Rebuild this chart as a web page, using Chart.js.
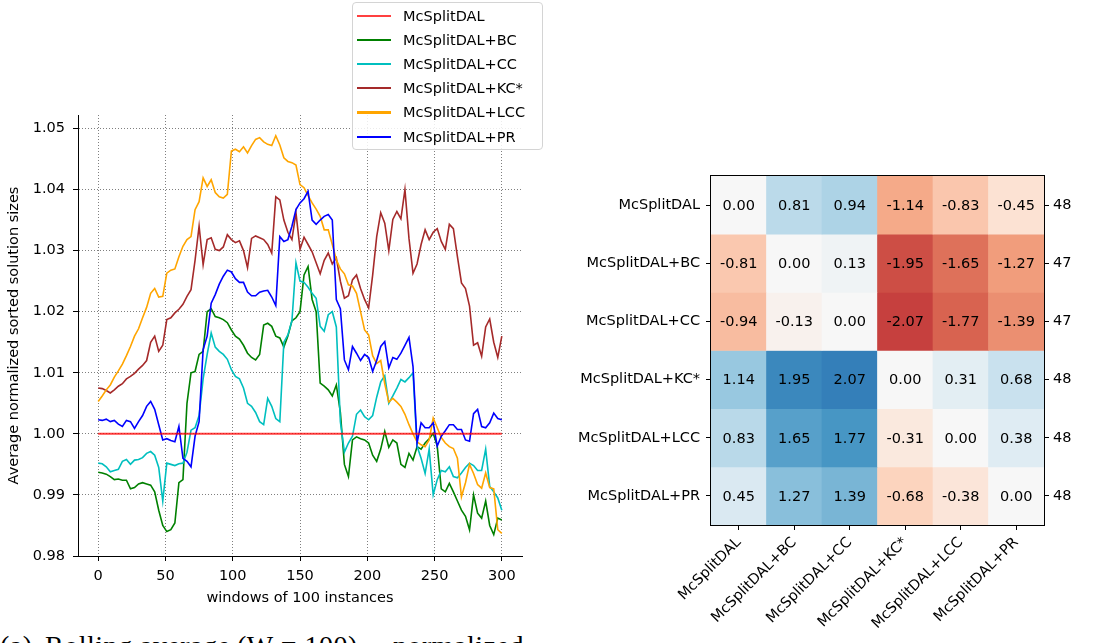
<!DOCTYPE html>
<html lang="en">
<head>
<meta charset="UTF-8">
<title>Rolling average and pairwise differences</title>
<script src="https://cdn.jsdelivr.net/npm/chart.js"></script>
<style>
    html, body { margin: 0; padding: 0; background: #fff; }
    body {
        width: 1108px;
        height: 643px;
        position: relative;
        overflow: hidden;
        font-family: "DejaVu Sans", sans-serif;
    }
    #lineChart { position: absolute; left: 0; top: 0; }
    #heatChart { position: absolute; left: 560px; top: 0; }

    /* legend sits above the line plot, partly over the top of it */
    .legend {
        position: absolute;
        left: 352px;
        top: 2px;
        width: 191px;
        height: 148px;
        box-sizing: border-box;
        border: 1px solid #d4d4d4;
        border-radius: 4px;
        background: rgba(255, 255, 255, 0.85);
    }
    .legend .item {
        position: absolute;
        left: 0;
        height: 20px;
        line-height: 20px;
        font-size: 14.5px;
        color: #000;
        white-space: nowrap;
    }
    .legend .swatch {
        position: absolute;
        left: 4px;
        top: 9px;
        width: 34px;
        height: 2.2px;
    }
    .legend .text { position: absolute; left: 50px; top: 0; }

    /* sub-figure caption, only its upper part fits on the page */
    .caption {
        position: absolute;
        top: 632px;
        font-family: "Liberation Serif", "DejaVu Serif", serif;
        font-size: 28px;
        line-height: 28px;
        letter-spacing: 0.5px;
        color: #000;
        white-space: nowrap;
    }
</style>
</head>
<body>
    <canvas id="lineChart" width="560" height="615"></canvas>
    <canvas id="heatChart" width="548" height="643"></canvas>
    <div class="legend" id="legend"></div>

    <div class="caption" style="left: 0px;">(a)</div>
    <div class="caption" style="left: 45px;">Rolling average</div>
    <div class="caption" style="left: 237px;">(W = 100)</div>
    <div class="caption" style="left: 393px;">normalized</div>

<script>
    // ---- line plot data ----
    const methods = ['McSplitDAL', 'McSplitDAL+BC', 'McSplitDAL+CC', 'McSplitDAL+KC*', 'McSplitDAL+LCC', 'McSplitDAL+PR'];

    // window index, every third window from 0 to 300
    const windows = Array.from({ length: 101 }, (_, i) => i * 3);

    const xTickValues = [0, 50, 100, 150, 200, 250, 300];
    const yTickValues = [0.98, 0.99, 1.00, 1.01, 1.02, 1.03, 1.04, 1.05];

    const dalValues = [
        1, 1, 1, 1, 1, 1, 1, 1, 1, 1, 1, 1, 1, 1, 1, 1, 1, 1, 1, 1,
        1, 1, 1, 1, 1, 1, 1, 1, 1, 1, 1, 1, 1, 1, 1, 1, 1, 1, 1, 1,
        1, 1, 1, 1, 1, 1, 1, 1, 1, 1, 1, 1, 1, 1, 1, 1, 1, 1, 1, 1,
        1, 1, 1, 1, 1, 1, 1, 1, 1, 1, 1, 1, 1, 1, 1, 1, 1, 1, 1, 1,
        1, 1, 1, 1, 1, 1, 1, 1, 1, 1, 1, 1, 1, 1, 1, 1, 1, 1, 1, 1,
        1
    ];

    const bcValues = [
        0.9937, 0.9936, 0.9934, 0.9930, 0.9925, 0.9926, 0.9924, 0.9924, 0.9910, 0.9912,
        0.9918, 0.9920, 0.9918, 0.9916, 0.9905, 0.9875, 0.9850, 0.9840, 0.9843, 0.9854,
        0.9920, 0.9925, 1.0050, 1.0100, 1.0102, 1.0130, 1.0135, 1.0200, 1.0205, 1.0192,
        1.0190, 1.0187, 1.0182, 1.0170, 1.0160, 1.0155, 1.0145, 1.0132, 1.0125, 1.0121,
        1.0130, 1.0178, 1.0181, 1.0176, 1.0160, 1.0157, 1.0142, 1.0160, 1.0185, 1.0190,
        1.0200, 1.0260, 1.0274, 1.0220, 1.0200, 1.0083, 1.0078, 1.0072, 1.0062, 1.0080,
        1.0035, 0.9950, 0.9930, 0.9990, 0.9995, 0.9992, 0.9990, 0.9985, 0.9965, 0.9955,
        0.9975, 1.0004, 0.9978, 0.9990, 0.9985, 0.9950, 0.9945, 0.9968, 0.9957, 0.9979,
        0.9975, 0.9985, 0.9992, 1.0001, 0.9980, 0.9910, 0.9905, 0.9919, 0.9905, 0.9890,
        0.9875, 0.9865, 0.9843, 0.9900, 0.9870, 0.9862, 0.9890, 0.9850, 0.9835, 0.9862,
        0.9859
    ];

    const ccValues = [
        0.9952, 0.9951, 0.9946, 0.9938, 0.9940, 0.9942, 0.9955, 0.9958, 0.9950, 0.9957,
        0.9958, 0.9961, 0.9968, 0.9971, 0.9965, 0.9945, 0.9890, 0.9952, 0.9950, 0.9948,
        0.9951, 0.9952, 0.9970, 1.0006, 1.0010, 1.0030, 1.0090, 1.0130, 1.0165, 1.0142,
        1.0135, 1.0130, 1.0122, 1.0105, 1.0094, 1.0090, 1.0075, 1.0050, 1.0045, 1.0035,
        1.0020, 1.0015, 1.0058, 1.0045, 1.0025, 1.0020, 1.0150, 1.0162, 1.0185, 1.0280,
        1.0250, 1.0248, 1.0240, 1.0230, 1.0222, 1.0176, 1.0168, 1.0195, 1.0200, 1.0175,
        1.0020, 0.9970, 0.9985, 0.9996, 1.0032, 1.0039, 1.0028, 1.0023, 1.0030, 1.0060,
        1.0085, 1.0095, 1.0050, 1.0062, 1.0075, 1.0089, 1.0085, 1.0092, 1.0100, 0.9980,
        0.9960, 0.9935, 0.9975, 0.9900, 0.9925, 0.9940, 0.9938, 0.9946, 0.9930, 0.9928,
        0.9936, 0.9945, 0.9952, 0.9948, 0.9940, 0.9940, 0.9975, 0.9914, 0.9905, 0.9895,
        0.9875
    ];

    const kcValues = [
        1.0075, 1.0074, 1.0071, 1.0067, 1.0072, 1.0078, 1.0082, 1.0090, 1.0094, 1.0099,
        1.0106, 1.0112, 1.0120, 1.0150, 1.0160, 1.0135, 1.0145, 1.0187, 1.0190, 1.0198,
        1.0204, 1.0212, 1.0225, 1.0236, 1.0284, 1.0340, 1.0277, 1.0318, 1.0321, 1.0302,
        1.0300, 1.0306, 1.0326, 1.0318, 1.0313, 1.0316, 1.0300, 1.0272, 1.0320, 1.0324,
        1.0321, 1.0318, 1.0310, 1.0296, 1.0388, 1.0383, 1.0350, 1.0330, 1.0318, 1.0362,
        1.0302, 1.0322, 1.0310, 1.0298, 1.0280, 1.0262, 1.0284, 1.0296, 1.0278, 1.0288,
        1.0250, 1.0222, 1.0226, 1.0252, 1.0260, 1.0238, 1.0220, 1.0206, 1.0260, 1.0323,
        1.0362, 1.0345, 1.0300, 1.0351, 1.0364, 1.0352, 1.0400, 1.0320, 1.0263, 1.0278,
        1.0310, 1.0334, 1.0318, 1.0330, 1.0336, 1.0315, 1.0302, 1.0343, 1.0336, 1.0290,
        1.0247, 1.0238, 1.0209, 1.0145, 1.0149, 1.0127, 1.0175, 1.0188, 1.0150, 1.0125,
        1.0160
    ];

    const lccValues = [
        1.0053, 1.0062, 1.0072, 1.0080, 1.0093, 1.0103, 1.0114, 1.0128, 1.0143, 1.0160,
        1.0172, 1.0190, 1.0207, 1.0230, 1.0238, 1.0224, 1.0225, 1.0263, 1.0268, 1.0270,
        1.0290, 1.0307, 1.0318, 1.0323, 1.0367, 1.0380, 1.0419, 1.0405, 1.0416, 1.0395,
        1.0388, 1.0386, 1.0392, 1.0463, 1.0466, 1.0462, 1.0470, 1.0460, 1.0472, 1.0482,
        1.0485, 1.0478, 1.0474, 1.0472, 1.0488, 1.0473, 1.0452, 1.0446, 1.0444, 1.0440,
        1.0408, 1.0403, 1.0390, 1.0378, 1.0368, 1.0356, 1.0334, 1.0334, 1.0310, 1.0285,
        1.0270, 1.0262, 1.0244, 1.0242, 1.0230, 1.0200, 1.0170, 1.0162, 1.0128, 1.0115,
        1.0120, 1.0082, 1.0052, 1.0058, 1.0052, 1.0045, 1.0032, 1.0015, 1.0000, 0.9987,
        0.9982, 0.9979, 0.9990, 1.0026, 1.0010, 0.9994, 0.9985, 0.9979, 0.9976, 0.9960,
        0.9897, 0.9920, 0.9950, 0.9935, 0.9917, 0.9911, 0.9936, 0.9912, 0.9910, 0.9843,
        0.9837
    ];

    const prValues = [
        1.0023, 1.0022, 1.0024, 1.0020, 1.0022, 1.0016, 1.0012, 1.0022, 1.0020, 1.0009,
        1.0020, 1.0030, 1.0045, 1.0053, 1.0040, 1.0015, 0.9990, 0.9992, 0.9989, 0.9987,
        1.0012, 0.9960, 0.9955, 0.9946, 0.9996, 1.0020, 1.0138, 1.0160, 1.0214, 1.0228,
        1.0245, 1.0258, 1.0268, 1.0265, 1.0254, 1.0248, 1.0248, 1.0232, 1.0226, 1.0226,
        1.0232, 1.0234, 1.0235, 1.0224, 1.0210, 1.0323, 1.0315, 1.0318, 1.0340, 1.0367,
        1.0378, 1.0385, 1.0397, 1.0350, 1.0343, 1.0350, 1.0356, 1.0359, 1.0350, 1.0220,
        1.0205, 1.0121, 1.0105, 1.0143, 1.0132, 1.0120, 1.0130, 1.0125, 1.0102, 1.0120,
        1.0143, 1.0151, 1.0108, 1.0125, 1.0122, 1.0132, 1.0145, 1.0158, 1.0110, 0.9985,
        1.0018, 1.0010, 1.0010, 1.0018, 0.9980, 0.9996, 1.0005, 1.0015, 1.0015, 1.0007,
        1.0007, 0.9990, 0.9988, 1.0033, 1.0040, 1.0012, 1.0010, 1.0018, 1.0034, 1.0025,
        1.0023
    ];

    const seriesValues = [dalValues, bcValues, ccValues, kcValues, lccValues, prValues];
    const seriesColors = ['rgba(255, 0, 0, 0.75)', '#008000', '#00bfbf', '#a52a2a', '#ffa500', '#0000ff'];
    const seriesWidths = [2, 1.6, 1.6, 1.6, 1.6, 1.6];
    // later series are drawn over earlier ones, the baseline stays on top
    const seriesOrder = [-1, 5, 4, 3, 2, 1];

    // ---- heatmap data: row method minus column method ----
    const diffRows = [
        [ 0.00,  0.81,  0.94, -1.14, -0.83, -0.45],
        [-0.81,  0.00,  0.13, -1.95, -1.65, -1.27],
        [-0.94, -0.13,  0.00, -2.07, -1.77, -1.39],
        [ 1.14,  1.95,  2.07,  0.00,  0.31,  0.68],
        [ 0.83,  1.65,  1.77, -0.31,  0.00,  0.38],
        [ 0.45,  1.27,  1.39, -0.68, -0.38,  0.00]
    ];
    const rowCounts = [48, 47, 47, 48, 48, 48];

    Chart.defaults.font.family = '"DejaVu Sans", sans-serif';
    Chart.defaults.font.size = 14.5;
    Chart.defaults.color = '#000';

    // RdBu colour ramp, limits -3 .. 3
    const rdbuStops = [
        [103, 0, 31], [178, 24, 43], [214, 96, 77], [244, 165, 130], [253, 219, 199], [247, 247, 247],
        [209, 229, 240], [146, 197, 222], [67, 147, 195], [33, 102, 172], [5, 48, 97]
    ];
    function rdbu(v) {
        let t = (v + 3) / 6;
        t = Math.max(0, Math.min(1, t)) * (rdbuStops.length - 1);
        const i = Math.min(Math.floor(t), rdbuStops.length - 2);
        const f = t - i;
        const a = rdbuStops[i], b = rdbuStops[i + 1];
        const c = a.map((ch, k) => Math.round(ch + (b[k] - ch) * f));
        return 'rgb(' + c.join(',') + ')';
    }

    // ---- rolling average line plot ----
    const dottedGrid = {
        color: 'rgba(0, 0, 0, 0.5)',
        lineWidth: 1,
        tickColor: '#000',
        tickLength: 5,
        tickWidth: 1
    };

    const lineChart = new Chart(document.getElementById('lineChart'), {
        type: 'line',
        data: {
            datasets: methods.map((name, i) => ({
                label: name,
                data: windows.map((w, j) => ({ x: w, y: seriesValues[i][j] })),
                borderColor: seriesColors[i],
                borderWidth: seriesWidths[i],
                order: seriesOrder[i],
                pointRadius: 0,
                tension: 0
            }))
        },
        options: {
            responsive: false,
            animation: false,
            layout: { padding: { top: 115, right: 38, left: 0, bottom: 0 } },
            plugins: { legend: { display: false }, tooltip: { enabled: false } },
            scales: {
                x: {
                    type: 'linear',
                    min: -15,
                    max: 315,
                    afterBuildTicks: s => { s.ticks = xTickValues.map(v => ({ value: v })); },
                    afterFit: s => { s.height = 59; s.paddingLeft = 0; s.paddingRight = 0; },
                    ticks: { padding: 7, maxRotation: 0, callback: v => v },
                    grid: dottedGrid,
                    border: { color: '#000', width: 1, dash: [1, 2] },
                    title: { display: true, text: 'windows of 100 instances', padding: { top: 0, bottom: 8 } }
                },
                y: {
                    min: 0.98,
                    max: 1.0522,
                    afterBuildTicks: s => { s.ticks = yTickValues.map(v => ({ value: v })); },
                    afterFit: s => { s.width = 78; },
                    ticks: { padding: 8, callback: v => v.toFixed(2) },
                    grid: dottedGrid,
                    border: { color: '#000', width: 1, dash: [1, 2] },
                    title: { display: true, text: 'Average normalized sorted solution sizes', padding: { top: 6, bottom: 0 } }
                }
            }
        }
    });

    // legend built from the chart's own datasets
    const legendBox = document.getElementById('legend');
    lineChart.data.datasets.forEach((ds, i) => {
        const item = document.createElement('div');
        item.className = 'item';
        item.style.top = (3 + i * 24.1) + 'px';
        item.innerHTML = '<span class="swatch"></span><span class="text"></span>';
        item.querySelector('.swatch').style.background = ds.borderColor;
        item.querySelector('.text').textContent = ds.label;
        legendBox.appendChild(item);
    });

    // ---- pairwise difference heatmap ----
    const cellText = {
        id: 'cellText',
        afterDatasetsDraw(chart) {
            const ctx = chart.ctx;
            ctx.save();
            ctx.font = '14.5px "DejaVu Sans", sans-serif';
            ctx.fillStyle = '#000';
            ctx.textAlign = 'center';
            ctx.textBaseline = 'middle';
            chart.data.datasets.forEach((ds, r) => {
                chart.getDatasetMeta(r).data.forEach((bar, c) => {
                    ctx.fillText(diffRows[r][c].toFixed(2), bar.x, (bar.y + bar.base) / 2 + 1);
                });
            });
            ctx.restore();
        }
    };

    const frame = {
        id: 'frame',
        afterDraw(chart) {
            const { left, top, right, bottom } = chart.chartArea;
            const ctx = chart.ctx;
            ctx.save();
            ctx.strokeStyle = '#000';
            ctx.lineWidth = 1;
            ctx.strokeRect(Math.round(left) - 0.5, Math.round(top) - 0.5,
                Math.round(right - left) + 1, Math.round(bottom - top) + 1);
            ctx.restore();
        }
    };

    const rowTicks = s => { s.ticks = methods.map((_, i) => ({ value: i + 0.5 })); };
    const tickOnly = { display: true, drawOnChartArea: false, tickLength: 5, tickColor: '#000', tickWidth: 1, offset: false };

    new Chart(document.getElementById('heatChart'), {
        type: 'bar',
        data: {
            labels: methods,
            datasets: diffRows.map((row, r) => ({
                label: methods[r],
                data: row.map(() => [r, r + 1]),
                backgroundColor: row.map(rdbu),
                borderWidth: 0,
                grouped: false,
                barPercentage: 1,
                categoryPercentage: 1
            }))
        },
        options: {
            responsive: false,
            animation: false,
            layout: { padding: { top: 176, right: 0, left: 0, bottom: 0 } },
            plugins: { legend: { display: false }, tooltip: { enabled: false } },
            scales: {
                x: {
                    type: 'category',
                    afterFit: s => { s.height = 118; s.paddingLeft = 0; s.paddingRight = 0; },
                    ticks: { autoSkip: false, minRotation: 45, maxRotation: 45, padding: 4 },
                    grid: tickOnly,
                    border: { display: false }
                },
                y: {
                    type: 'linear',
                    min: 0,
                    max: 6,
                    reverse: true,
                    afterBuildTicks: rowTicks,
                    afterFit: s => { s.width = 151; },
                    ticks: { padding: 6, callback: (v, i) => methods[i] },
                    grid: tickOnly,
                    border: { display: false }
                },
                y2: {
                    type: 'linear',
                    position: 'right',
                    min: 0,
                    max: 6,
                    reverse: true,
                    afterBuildTicks: rowTicks,
                    afterFit: s => { s.width = 64; },
                    ticks: { padding: 4, callback: (v, i) => rowCounts[i] },
                    grid: tickOnly,
                    border: { display: false }
                }
            }
        },
        plugins: [cellText, frame]
    });
</script>
</body>
</html>
